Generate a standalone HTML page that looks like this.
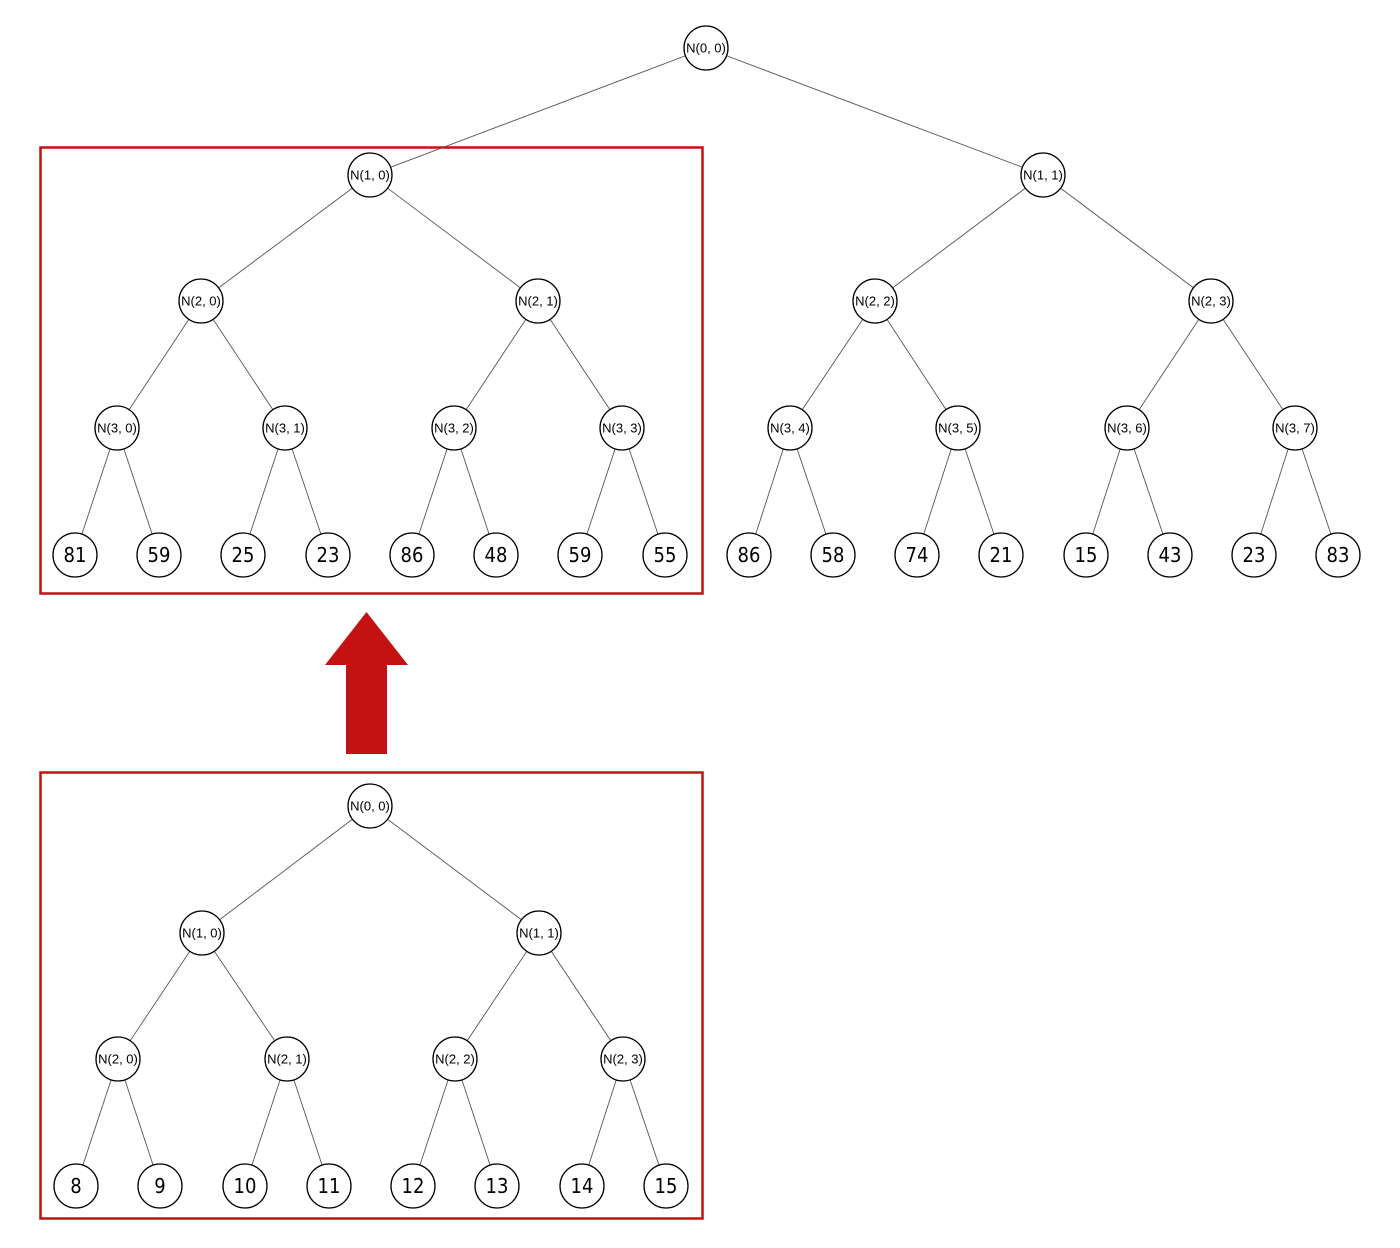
<!DOCTYPE html>
<html><head><meta charset="utf-8"><style>
body{margin:0;background:#fff}
svg{display:block}
circle{fill:#fff;stroke:#000;stroke-width:1.3}
line{stroke:#555;stroke-width:0.9}
.s{font:13px "Liberation Sans Narrow","Liberation Sans",sans-serif;text-anchor:middle;dominant-baseline:central}
.b{font:20px "DejaVu Sans Condensed","Liberation Sans",sans-serif;text-anchor:middle;dominant-baseline:central}
</style></head><body>
<svg width="1400" height="1248" viewBox="0 0 1400 1248">
<rect x="40.5" y="147.5" width="662" height="446" fill="none" stroke="#c41111" stroke-width="2.5"/>
<rect x="40.5" y="772.5" width="662" height="446" fill="none" stroke="#c41111" stroke-width="2.5"/>
<polygon points="346,754 387,754 387,665 408,665 366.5,612 325,665 346,665" fill="#c41111"/>
<g>
<line x1="706" y1="48" x2="370" y2="175"/><line x1="706" y1="48" x2="1043" y2="175"/>
<line x1="370" y1="175" x2="201" y2="301"/><line x1="370" y1="175" x2="538" y2="301"/>
<line x1="1043" y1="175" x2="875" y2="301"/><line x1="1043" y1="175" x2="1211" y2="301"/>
<line x1="201" y1="301" x2="117" y2="428"/><line x1="201" y1="301" x2="285" y2="428"/>
<line x1="538" y1="301" x2="454" y2="428"/><line x1="538" y1="301" x2="622" y2="428"/>
<line x1="875" y1="301" x2="790" y2="428"/><line x1="875" y1="301" x2="958" y2="428"/>
<line x1="1211" y1="301" x2="1127" y2="428"/><line x1="1211" y1="301" x2="1295" y2="428"/>
<line x1="117" y1="428" x2="75" y2="555"/><line x1="117" y1="428" x2="159" y2="555"/>
<line x1="285" y1="428" x2="243" y2="555"/><line x1="285" y1="428" x2="328" y2="555"/>
<line x1="454" y1="428" x2="412" y2="555"/><line x1="454" y1="428" x2="496" y2="555"/>
<line x1="622" y1="428" x2="580" y2="555"/><line x1="622" y1="428" x2="665" y2="555"/>
<line x1="790" y1="428" x2="749" y2="555"/><line x1="790" y1="428" x2="833" y2="555"/>
<line x1="958" y1="428" x2="917" y2="555"/><line x1="958" y1="428" x2="1001" y2="555"/>
<line x1="1127" y1="428" x2="1086" y2="555"/><line x1="1127" y1="428" x2="1170" y2="555"/>
<line x1="1295" y1="428" x2="1254" y2="555"/><line x1="1295" y1="428" x2="1338" y2="555"/>

<line x1="370" y1="806" x2="202" y2="933"/><line x1="370" y1="806" x2="539" y2="933"/>
<line x1="202" y1="933" x2="118" y2="1059"/><line x1="202" y1="933" x2="287" y2="1059"/>
<line x1="539" y1="933" x2="455" y2="1059"/><line x1="539" y1="933" x2="623" y2="1059"/>
<line x1="118" y1="1059" x2="76" y2="1186"/><line x1="118" y1="1059" x2="160" y2="1186"/>
<line x1="287" y1="1059" x2="245" y2="1186"/><line x1="287" y1="1059" x2="329" y2="1186"/>
<line x1="455" y1="1059" x2="413" y2="1186"/><line x1="455" y1="1059" x2="497" y2="1186"/>
<line x1="623" y1="1059" x2="582" y2="1186"/><line x1="623" y1="1059" x2="666" y2="1186"/>
</g>
<g>
<circle cx="706" cy="48" r="22"/><text class="s" x="706" y="48">N(0, 0)</text>
<circle cx="370" cy="175" r="22"/><text class="s" x="370" y="175">N(1, 0)</text>
<circle cx="1043" cy="175" r="22"/><text class="s" x="1043" y="175">N(1, 1)</text>
<circle cx="201" cy="301" r="22"/><text class="s" x="201" y="301">N(2, 0)</text>
<circle cx="538" cy="301" r="22"/><text class="s" x="538" y="301">N(2, 1)</text>
<circle cx="875" cy="301" r="22"/><text class="s" x="875" y="301">N(2, 2)</text>
<circle cx="1211" cy="301" r="22"/><text class="s" x="1211" y="301">N(2, 3)</text>
<circle cx="117" cy="428" r="22"/><text class="s" x="117" y="428">N(3, 0)</text>
<circle cx="285" cy="428" r="22"/><text class="s" x="285" y="428">N(3, 1)</text>
<circle cx="454" cy="428" r="22"/><text class="s" x="454" y="428">N(3, 2)</text>
<circle cx="622" cy="428" r="22"/><text class="s" x="622" y="428">N(3, 3)</text>
<circle cx="790" cy="428" r="22"/><text class="s" x="790" y="428">N(3, 4)</text>
<circle cx="958" cy="428" r="22"/><text class="s" x="958" y="428">N(3, 5)</text>
<circle cx="1127" cy="428" r="22"/><text class="s" x="1127" y="428">N(3, 6)</text>
<circle cx="1295" cy="428" r="22"/><text class="s" x="1295" y="428">N(3, 7)</text>
<circle cx="75" cy="555" r="22"/><text class="b" x="75" y="555">81</text>
<circle cx="159" cy="555" r="22"/><text class="b" x="159" y="555">59</text>
<circle cx="243" cy="555" r="22"/><text class="b" x="243" y="555">25</text>
<circle cx="328" cy="555" r="22"/><text class="b" x="328" y="555">23</text>
<circle cx="412" cy="555" r="22"/><text class="b" x="412" y="555">86</text>
<circle cx="496" cy="555" r="22"/><text class="b" x="496" y="555">48</text>
<circle cx="580" cy="555" r="22"/><text class="b" x="580" y="555">59</text>
<circle cx="665" cy="555" r="22"/><text class="b" x="665" y="555">55</text>
<circle cx="749" cy="555" r="22"/><text class="b" x="749" y="555">86</text>
<circle cx="833" cy="555" r="22"/><text class="b" x="833" y="555">58</text>
<circle cx="917" cy="555" r="22"/><text class="b" x="917" y="555">74</text>
<circle cx="1001" cy="555" r="22"/><text class="b" x="1001" y="555">21</text>
<circle cx="1086" cy="555" r="22"/><text class="b" x="1086" y="555">15</text>
<circle cx="1170" cy="555" r="22"/><text class="b" x="1170" y="555">43</text>
<circle cx="1254" cy="555" r="22"/><text class="b" x="1254" y="555">23</text>
<circle cx="1338" cy="555" r="22"/><text class="b" x="1338" y="555">83</text>

<circle cx="370" cy="806" r="22"/><text class="s" x="370" y="806">N(0, 0)</text>
<circle cx="202" cy="933" r="22"/><text class="s" x="202" y="933">N(1, 0)</text>
<circle cx="539" cy="933" r="22"/><text class="s" x="539" y="933">N(1, 1)</text>
<circle cx="118" cy="1059" r="22"/><text class="s" x="118" y="1059">N(2, 0)</text>
<circle cx="287" cy="1059" r="22"/><text class="s" x="287" y="1059">N(2, 1)</text>
<circle cx="455" cy="1059" r="22"/><text class="s" x="455" y="1059">N(2, 2)</text>
<circle cx="623" cy="1059" r="22"/><text class="s" x="623" y="1059">N(2, 3)</text>
<circle cx="76" cy="1186" r="22"/><text class="b" x="76" y="1186">8</text>
<circle cx="160" cy="1186" r="22"/><text class="b" x="160" y="1186">9</text>
<circle cx="245" cy="1186" r="22"/><text class="b" x="245" y="1186">10</text>
<circle cx="329" cy="1186" r="22"/><text class="b" x="329" y="1186">11</text>
<circle cx="413" cy="1186" r="22"/><text class="b" x="413" y="1186">12</text>
<circle cx="497" cy="1186" r="22"/><text class="b" x="497" y="1186">13</text>
<circle cx="582" cy="1186" r="22"/><text class="b" x="582" y="1186">14</text>
<circle cx="666" cy="1186" r="22"/><text class="b" x="666" y="1186">15</text>
</g>
</svg>
</body></html>
